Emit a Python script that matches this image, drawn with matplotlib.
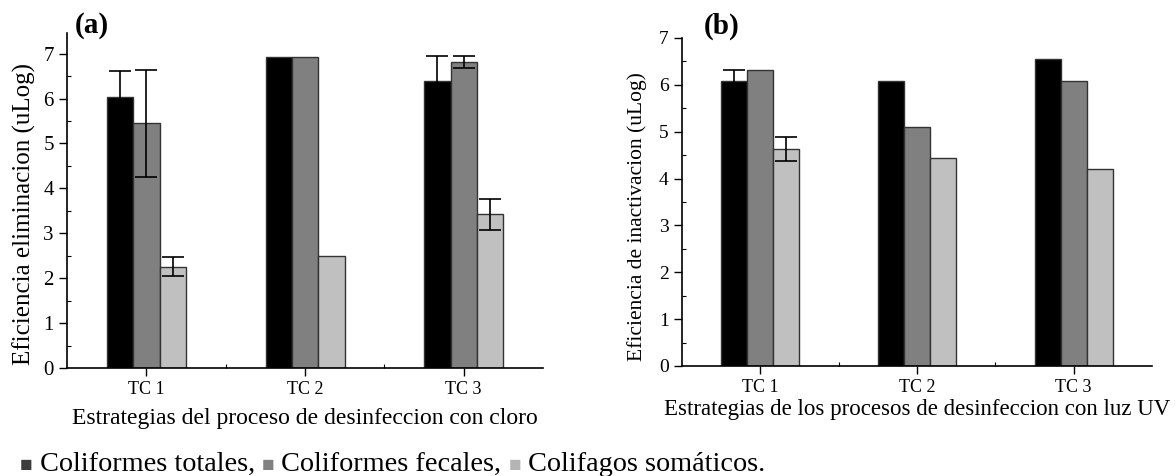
import matplotlib
matplotlib.use('Agg')
import matplotlib.pyplot as plt
from matplotlib.offsetbox import TextArea, HPacker, AnchoredOffsetbox
import numpy as np

plt.rcParams['font.family'] = ['Liberation Serif', 'DejaVu Serif']

# Data
categories = ['TC 1', 'TC 2', 'TC 3']
series = ['Coliformes totales', 'Coliformes fecales', 'Colifagos somáticos']
colors = ['#000000', '#808080', '#c0c0c0']
legend_colors = ['#3c3c3c', '#808080', '#b4b4b4']

# (a) cloro
cloro_vals = [[6.04, 6.93, 6.39],
              [5.45, 6.93, 6.82],
              [2.26, 2.50, 3.42]]
cloro_err = [[0.57, 0.0, 0.56],
             [1.19, 0.0, 0.13],
             [0.21, 0.0, 0.34]]

# (b) luz UV
uv_vals = [[6.09, 6.09, 6.56],
           [6.32, 5.11, 6.09],
           [4.63, 4.43, 4.20]]
uv_err = [[0.23, 0.0, 0.0],
          [0.0, 0.0, 0.0],
          [0.25, 0.0, 0.0]]

fig = plt.figure(figsize=(11.76, 4.76), dpi=100)
ax_a = fig.add_axes([0.0570, 0.2269, 0.4048, 0.7038])
ax_b = fig.add_axes([0.5799, 0.2311, 0.3997, 0.6891])

width = 0.166
x = np.arange(len(categories))


def draw_panel(ax, vals, errs, ymax, ylabel, xlabel, tick_fs, ylab_fs, xlab_fs):
    for i in range(len(series)):
        pos = x + (i - 1) * width
        ax.bar(pos, vals[i], width, color=colors[i], edgecolor='#333333',
               linewidth=1.0, zorder=2)
        e = np.array(errs[i])
        m = e > 0
        if m.any():
            ax.errorbar(pos[m], np.array(vals[i])[m], yerr=e[m], fmt='none',
                        ecolor='black', elinewidth=1.2, capsize=8,
                        capthick=1.2, zorder=3)
    ax.set_xlim(-0.5, 2.5)
    ax.set_ylim(0, ymax)
    ax.set_xticks(x)
    ax.set_xticklabels(categories, fontsize=13)
    ax.set_xticks([0.5, 1.5], minor=True)
    ax.set_yticks(range(0, 8))
    ax.set_yticks(np.arange(0.5, 7.5, 1.0), minor=True)
    ax.tick_params(axis='y', which='major', direction='out', length=6,
                   width=1.0, labelsize=tick_fs)
    ax.tick_params(axis='x', which='major', direction='out', length=6, width=1.0)
    ax.tick_params(which='minor', direction='in', length=3, width=0.8)
    for s in ['top', 'right']:
        ax.spines[s].set_visible(False)
    for s in ['left', 'bottom']:
        ax.spines[s].set_linewidth(1.2)
    ax.set_ylabel(ylabel, fontsize=ylab_fs)
    ax.set_xlabel(xlabel, fontsize=xlab_fs)


draw_panel(ax_a, cloro_vals, cloro_err, 7.46,
           'Eficiencia eliminacion (uLog)',
           'Estrategias del proceso de desinfeccion con cloro', 15, 18, 17)
draw_panel(ax_b, uv_vals, uv_err, 7.0,
           'Eficiencia de inactivacion (uLog)',
           'Estrategias de los procesos de desinfeccion con luz UV', 14, 15.5, 16.5)

ax_a.yaxis.set_label_coords(-0.065, 0.46)
ax_a.xaxis.set_label_coords(0.5, -0.12)
ax_b.yaxis.set_label_coords(-0.075, 0.455)
ax_b.xaxis.set_label_coords(0.5, -0.10)

fig.text(0.078, 0.947, '(a)', fontsize=21, fontweight='bold', ha='center', va='center')
fig.text(0.614, 0.945, '(b)', fontsize=21, fontweight='bold', ha='center', va='center')

# legend line built from coloured squares and text
parts = []
for c, name, end in zip(legend_colors, series, [', ', ', ', '.']):
    parts.append(TextArea('\u25a0', textprops=dict(color=c, fontsize=15)))
    parts.append(TextArea(' ' + name + end, textprops=dict(color='black', fontsize=20.3)))
box = HPacker(children=parts, align='baseline', pad=0, sep=0)
anchored = AnchoredOffsetbox(loc='center left', child=box, frameon=False,
                             bbox_to_anchor=(0.017, 0.024),
                             bbox_transform=fig.transFigure, borderpad=0, pad=0)
fig.add_artist(anchored)

fig.savefig('out.png', dpi=100)
